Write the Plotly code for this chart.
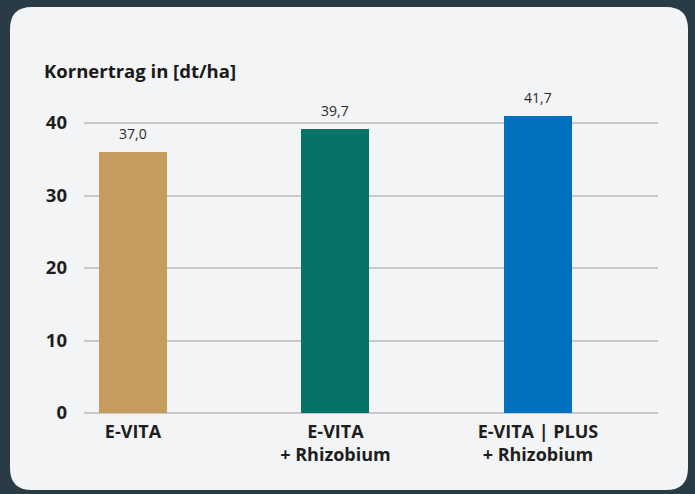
import plotly.graph_objects as go

categories = ["E-VITA", "E-VITA<br>+ Rhizobium", "E-VITA | PLUS<br>+ Rhizobium"]
bar_heights = [36.0, 39.2, 41.0]
value_labels = ["37,0", "39,7", "41,7"]
colors = ["#c69c5e", "#057466", "#0070bf"]
y_ticks = [0, 10, 20, 30, 40]

W, H = 695, 494
L, R, T, B = 84, 37, 101, 81
pw, ph = W - L - R, H - T - B

def px_to_paper(x, y):
    return (x - L) / pw, (H - B - y) / ph

xs = list(range(len(categories)))

fig = go.Figure()
fig.add_trace(go.Bar(
    x=xs, y=bar_heights, marker=dict(color=colors, line=dict(width=0)),
    width=0.336, hoverinfo="skip",
))

for x, v, t in zip(xs, bar_heights, value_labels):
    fig.add_annotation(x=x, y=v, text=t, showarrow=False, yanchor="bottom",
                       yshift=7, font=dict(family="Open Sans", size=14, color="#2b2b2b"))

# card background with rounded corners
x0, y0 = px_to_paper(10, 490)
x1, y1 = px_to_paper(688, 7)
rx, ry = 22 / pw, 22 / ph
path = (f"M {x0+rx},{y0} L {x1-rx},{y0} Q {x1},{y0} {x1},{y0+ry} "
        f"L {x1},{y1-ry} Q {x1},{y1} {x1-rx},{y1} L {x0+rx},{y1} "
        f"Q {x0},{y1} {x0},{y1-ry} L {x0},{y0+ry} Q {x0},{y0} {x0+rx},{y0} Z")
fig.add_shape(type="path", path=path, xref="paper", yref="paper",
              fillcolor="#f3f4f5", line=dict(width=0), layer="below")

tx, ty = px_to_paper(42, 71)
fig.add_annotation(xref="paper", yref="paper", x=tx, y=ty, xanchor="left", yanchor="middle",
                   text="<b>Kornertrag in [dt/ha]</b>", showarrow=False,
                   font=dict(family="Open Sans", size=18.5, color="#1a1a1a"))

fig.update_layout(
    width=W, height=H,
    margin=dict(l=L, r=R, t=T, b=B),
    paper_bgcolor="#293b45",
    plot_bgcolor="rgba(0,0,0,0)",
    showlegend=False,
    bargap=0,
    xaxis=dict(
        range=[-0.242, 2.593], tickmode="array", tickvals=xs,
        ticktext=[f"<b>{c}</b>" for c in categories],
        showgrid=False, zeroline=False, showline=False,
        tickfont=dict(family="Open Sans", size=18, color="#1e1e1e"),
        ticks="outside", ticklen=2, tickcolor="rgba(0,0,0,0)",
        fixedrange=True,
    ),
    yaxis=dict(
        range=[0, ph / 7.25], tickmode="array", tickvals=y_ticks,
        ticktext=[f"<b>{v}</b>" for v in y_ticks],
        showgrid=True, gridcolor="#c9c9cb", gridwidth=2,
        zeroline=True, zerolinecolor="#c9c9cb", zerolinewidth=2,
        showline=False, ticklabelstandoff=16,
        tickfont=dict(family="Open Sans", size=18.5, color="#1e1e1e"),
        fixedrange=True,
    ),
)

fig.write_html(
    "out.html",
    config={"displayModeBar": False, "staticPlot": True},
    post_script="document.body.style.margin='0';document.body.style.background='#293b45';",
)
